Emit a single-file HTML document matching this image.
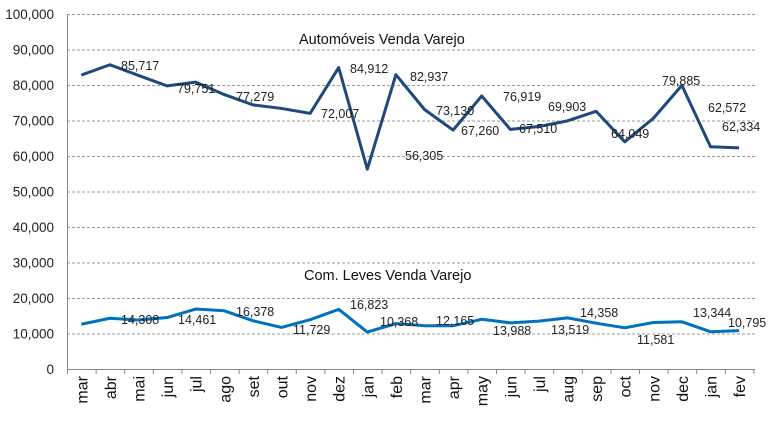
<!DOCTYPE html>
<html><head><meta charset="utf-8"><style>
body{margin:0;background:#fff;}
svg{display:block;font-family:"Liberation Sans",sans-serif;}
</style></head><body>
<svg id="s" width="768" height="422" xmlns="http://www.w3.org/2000/svg">
<g id="grid"></g>
<line x1="67.5" y1="14" x2="67.5" y2="369" stroke="#888" stroke-width="1"/>
<line x1="67" y1="369.5" x2="755" y2="369.5" stroke="#888" stroke-width="1"/>
<g id="ticks"></g>
<polyline id="a" fill="none" stroke="#1f497d" stroke-width="3" stroke-linejoin="round"/>
<polyline id="c" fill="none" stroke="#0070c0" stroke-width="3" stroke-linejoin="round"/>
<g font-size="12.5" fill="#222">
<text x="121" y="70">85,717</text><text x="177" y="93">79,751</text><text x="236" y="101">77,279</text>
<text x="321" y="118">72,007</text><text x="350" y="73">84,912</text><text x="405" y="160">56,305</text>
<text x="410" y="81">82,937</text><text x="436" y="115">73,130</text><text x="461" y="135">67,260</text>
<text x="503" y="101">76,919</text><text x="519" y="133">67,510</text><text x="548" y="111">69,903</text>
<text x="611" y="138">64,049</text><text x="662" y="85">79,885</text><text x="708" y="112">62,572</text>
<text x="722" y="131">62,334</text>
<text x="121" y="324">14,308</text><text x="178" y="324">14,461</text><text x="236" y="316">16,378</text>
<text x="293" y="334">11,729</text><text x="350" y="309">16,823</text><text x="380" y="326">10,368</text>
<text x="436" y="325">12,165</text><text x="493" y="335">13,988</text><text x="551" y="334">13,519</text>
<text x="580" y="317">14,358</text><text x="637" y="344">11,581</text><text x="693" y="317">13,344</text>
<text x="728" y="327">10,795</text>
</g>
<text x="299" y="44" font-size="14.5" fill="#111">Automóveis Venda Varejo</text>
<text x="304" y="280" font-size="14.5" fill="#111">Com. Leves Venda Varejo</text>
</svg>
<script>
var s=document.getElementById('s'),ns="http://www.w3.org/2000/svg";
function el(t,a,p,txt){var e=document.createElementNS(ns,t);for(var k in a)e.setAttribute(k,a[k]);if(txt)e.textContent=txt;(p||s).appendChild(e);return e;}
function Y(v){return 369-v*0.00355;}
var g=document.getElementById('grid');
for(var i=0;i<=10;i++){var y=Y(i*10000);
 if(i>0)el('line',{x1:67,x2:755,y1:y+.5,y2:y+.5,stroke:'#999','stroke-dasharray':'3,2','stroke-width':1},g);
 el('text',{x:54,y:y+5,'text-anchor':'end','font-size':13.5,fill:'#222'},g,(i==0?'0':(i*10)+',000'));}
var m="mar abr mai jun jul ago set out nov dez jan feb mar apr may jun jul aug sep oct nov dec jan fev".split(' ');
var tk=document.getElementById('ticks');
for(var i=0;i<=24;i++){var x=67.5+i*28.6;el('line',{x1:x,x2:x,y1:369,y2:374,stroke:'#888'},tk);}
for(var i=0;i<24;i++){var x=67+14.3+i*28.6;
 el('text',{x:0,y:0,transform:'translate('+(x+6)+',376) rotate(-90)','text-anchor':'end','font-size':16,fill:'#111'},tk,m[i]);}
var A=[82.8,85.7,82.7,79.75,80.8,77.3,74.4,73.4,72.0,84.9,56.3,82.9,73.1,67.3,76.9,67.5,68.3,69.9,72.6,64.0,70.6,79.9,62.6,62.3];
var C=[12.6,14.3,13.8,14.5,16.9,16.4,13.6,11.7,13.9,16.8,10.4,12.8,12.2,12.2,14.0,13.0,13.5,14.4,12.9,11.6,13.1,13.3,10.5,10.8];
function pts(d){return d.map(function(v,i){return (81.3+i*28.6)+','+Y(v*1000);}).join(' ');}
document.getElementById('a').setAttribute('points',pts(A));
document.getElementById('c').setAttribute('points',pts(C));
</script>
</body></html>
